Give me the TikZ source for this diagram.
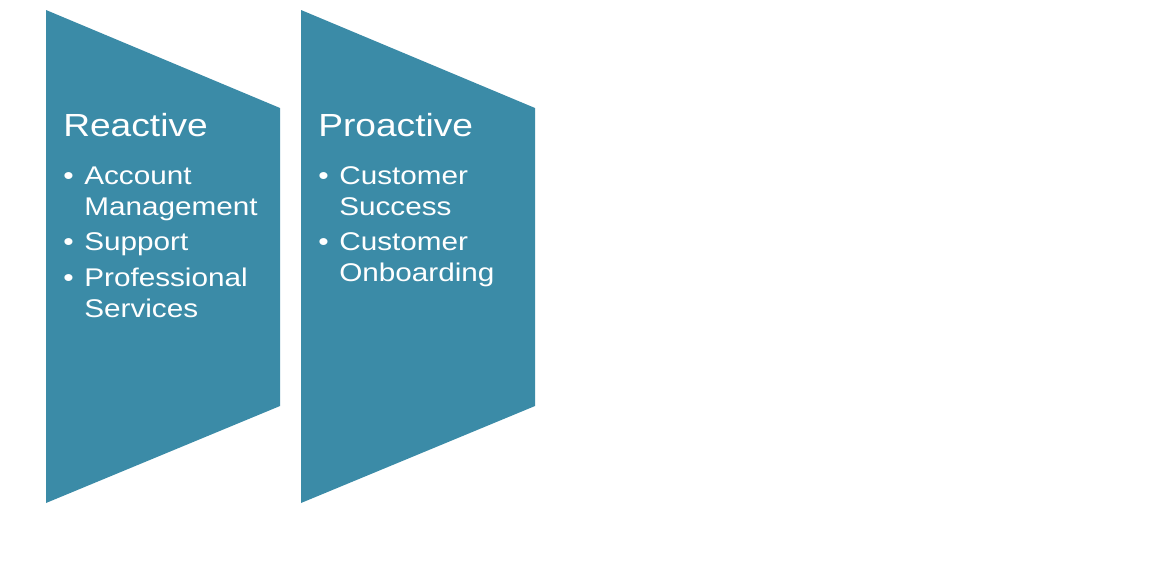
\documentclass[tikz,border=0pt]{standalone}
\usepackage{fontspec}
\setmainfont{Liberation Sans}
\usetikzlibrary{positioning,calc}
\definecolor{tealband}{RGB}{59,139,167}

\begin{document}
\begin{tikzpicture}[
    x=0.75pt, y=-0.75pt,
    band/.style={fill=tealband},
    headtext/.style={anchor=base west, inner sep=0pt, text=white, font=\fontsize{24}{28}\selectfont, xscale=1.16},
    itemtext/.style={anchor=base west, inner sep=0pt, text=white, align=left, font=\fontsize{19.2}{23.25}\selectfont, xscale=1.16},
    dotmark/.style={anchor=base west, inner sep=0pt, text=white, font=\fontsize{19.2}{23.25}\selectfont, xscale=1.16},
]

\useasboundingbox (0,0) rectangle (1174,568);

% ---- Bands ----
\fill[band] (46,10) -- (280,108) -- (280,406) -- (46,503) -- cycle;
\fill[band] (301,10) -- (535,108) -- (535,406) -- (301,503) -- cycle;

% ---- Left band: Reactive ----
% (two-line items are placed by the baseline of their last line)
\node[headtext] (reactive) at (63,136) {Reactive};
\node[dotmark] (dotA1) at (63,184) {•};
\node[itemtext] (account) at (84,215) {Account\\Management};
\node[dotmark] (dotA2) at (63,250) {•};
\node[itemtext] (support) at (84,250) {Support};
\node[dotmark] (dotA3) at (63,286) {•};
\node[itemtext] (services) at (84,317) {Professional\\Services};

% ---- Right band: Proactive ----
\node[headtext] (proactive) at (318,136) {Proactive};
\node[dotmark] (dotB1) at (318,184) {•};
\node[itemtext] (success) at (339,215) {Customer\\Success};
\node[dotmark] (dotB2) at (318,250) {•};
\node[itemtext] (onboarding) at (339,281) {Customer\\Onboarding};

\end{tikzpicture}
\end{document}
